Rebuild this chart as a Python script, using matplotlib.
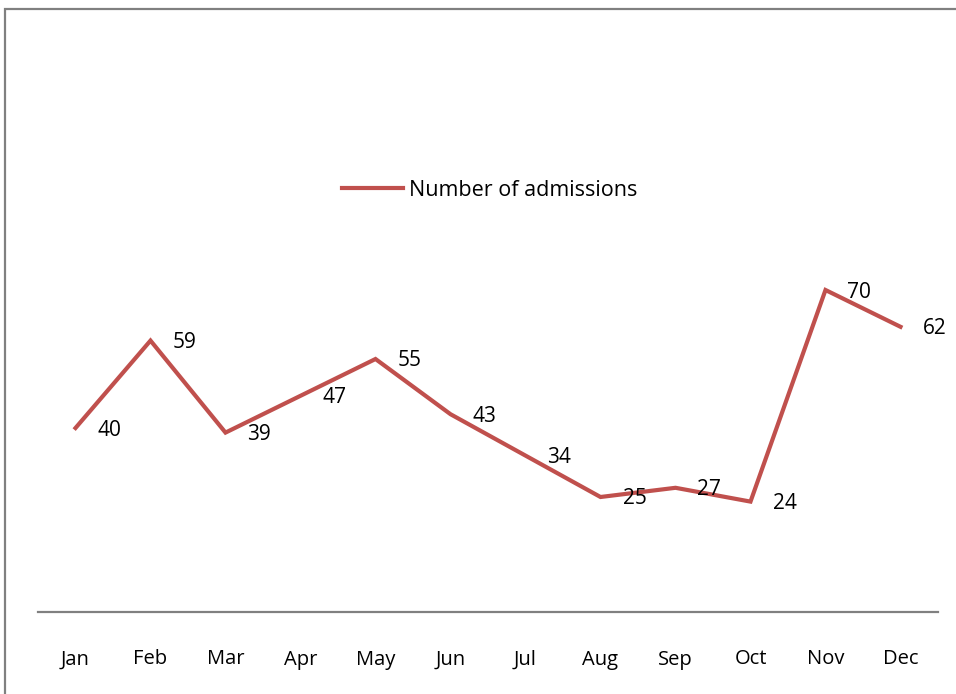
import matplotlib.pyplot as plt
from matplotlib.patches import Rectangle

months = ["Jan", "Feb", "Mar", "Apr", "May", "Jun",
          "Jul", "Aug", "Sep", "Oct", "Nov", "Dec"]
admissions = [40, 59, 39, 47, 55, 43, 34, 25, 27, 24, 70, 62]

W, H = 956, 694
plt.rcParams['font.family'] = ['Open Sans', 'DejaVu Sans']

fig = plt.figure(figsize=(W / 100, H / 100), dpi=100)
fig.patch.set_facecolor('white')

# outer chart border (only top and left visible in the crop)
fig.add_artist(Rectangle((5 / W, -0.1), 1.2, 1 - 9 / H + 0.1,
                         transform=fig.transFigure, fill=False,
                         edgecolor='#808080', linewidth=1.6))

# plot area: x 38..938 px, y 244 (80) .. 612 (0)
ax = fig.add_axes([38 / W, 1 - 612 / H, 900 / W, (612 - 244) / H])
x = list(range(len(months)))
ax.plot(x, admissions, color='#C0504D', linewidth=3,
        solid_joinstyle='miter', label='Number of admissions')

for xi, v in zip(x, admissions):
    ax.annotate(str(v), (xi, v), xytext=(22, -2), textcoords='offset pixels',
                ha='left', va='center', fontsize=15, color='black')

ax.set_xlim(-0.5, len(months) - 0.5)
ax.set_ylim(0, 80)
ax.set_xticks(x)
ax.set_xticklabels(months, fontsize=14.5)
ax.tick_params(axis='x', length=0, pad=27)
ax.set_yticks([])
for s in ['top', 'right', 'left']:
    ax.spines[s].set_visible(False)
ax.spines['bottom'].set_color('#808080')
ax.spines['bottom'].set_linewidth(1.6)
ax.set_facecolor('none')

ax.legend(loc='center', bbox_to_anchor=(490 / W, 1 - 190 / H),
          bbox_transform=fig.transFigure, frameon=False, fontsize=15.5,
          handlelength=2.8, handletextpad=0.3)

fig.savefig('out.png', dpi=100)
